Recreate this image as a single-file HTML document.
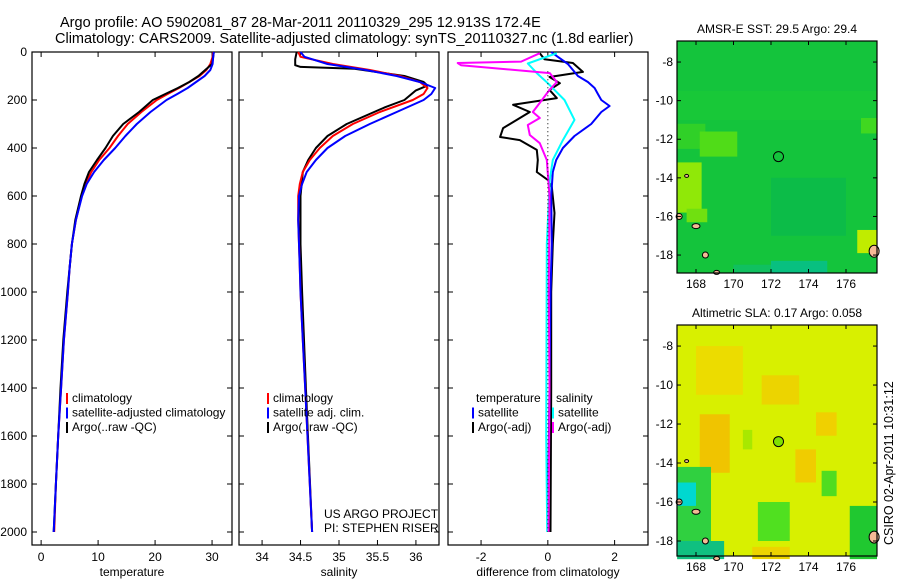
<!DOCTYPE html>
<html><head><meta charset="utf-8"><style>
html,body{margin:0;padding:0;background:#fff;}
svg{display:block;font-family:"Liberation Sans",sans-serif;}
text{font-size:12px;fill:#000;}
</style></head><body>
<svg id="fig" width="900" height="580" xmlns="http://www.w3.org/2000/svg">
<text x="60" y="27" style="font-size:14.5px">Argo profile: AO 5902081_87 28-Mar-2011 20110329_295 12.913S 172.4E</text>
<text x="55" y="43" style="font-size:14.5px">Climatology: CARS2009. Satellite-adjusted climatology: synTS_20110327.nc (1.8d earlier)</text>
<g id="panels"></g>
<text transform="translate(893,545) rotate(-90)" style="font-size:12.5px">CSIRO 02-Apr-2011 10:31:12</text>
</svg>
<script>
// ---- data ----
const depths = [0,20,50,75,100,125,150,175,200,250,300,350,400,450,500,550,600,700,800,900,1000,1200,1400,1600,1800,2000];
const tempClim = [30.2,30.1,29.7,29.0,27.8,26.0,24.2,22.2,20.3,17.6,15.2,13.5,12.0,10.2,8.8,7.8,7.1,6.1,5.4,5.0,4.7,4.0,3.5,3.0,2.6,2.3];
const tempSat  = [30.3,30.2,30.1,29.7,28.7,27.2,25.7,23.9,22.0,19.2,16.8,14.8,13.0,11.0,9.3,8.0,7.2,6.1,5.4,5.0,4.7,4.0,3.5,3.0,2.6,2.2];
const tempArgo = [30.3,30.2,30.0,28.8,27.6,26.0,24.0,21.8,19.6,17.2,14.4,12.6,11.3,9.8,8.4,7.6,7.0,6.0,5.4,5.0,4.6,3.9,3.4,3.0,2.6,2.2];
const salClim = [34.47,34.5,34.92,35.4,35.79,36.05,36.15,36.1,35.96,35.53,35.18,34.92,34.75,34.62,34.53,34.49,34.47,34.47,34.48,34.49,34.5,34.53,34.56,34.59,34.62,34.65];
const salSat  = [34.5,34.55,34.85,35.35,35.75,36.05,36.25,36.2,36.1,35.75,35.4,35.08,34.85,34.7,34.58,34.52,34.48,34.47,34.48,34.49,34.5,34.53,34.56,34.59,34.62,34.65];
const argoSalDepths = [0,30,55,62,70,100,125,140,160,200,230,300,350,400,450,500,600,800,1000,1400,2000];
const salArgo = [34.45,34.43,34.43,34.5,35.2,35.85,36.1,36.15,36.0,35.85,35.6,35.1,34.85,34.7,34.6,34.53,34.5,34.5,34.52,34.57,34.65];
const diffTempSatDepths = [0,20,50,75,100,125,150,175,200,225,250,300,350,400,450,500,600,800,1000,1400,2000];
const diffTempSat = [0.1,0.3,0.6,0.75,0.9,1.2,1.4,1.5,1.6,1.85,1.6,1.3,0.8,0.45,0.25,0.15,0.1,0.12,0.08,0.05,0.0];
const diffTempArgoDepths = [5,30,46,83,104,130,158,192,220,250,283,317,354,367,408,450,500,533,562,671,800,1000,1400,2000];
const diffTempArgo = [-0.24,-0.1,0.75,1.05,0.05,0.36,0.05,0.27,-1.04,-0.54,-0.93,-1.34,-1.43,-0.84,-0.33,-0.3,-0.33,0.0,0.12,0.2,0.15,0.1,0.1,0.08];
const diffSalArgoDepths = [5,40,46,55,88,125,158,212,250,275,304,346,380,450,600,1000,1400,2000];
const diffSalArgo = [-0.24,-0.8,-2.7,-2.6,0.06,0.27,0.05,-0.24,-0.45,-0.24,-0.6,-0.54,-0.24,-0.03,0.05,0.03,0.05,0.02];
const diffSalSatDepths = [5,48,88,130,200,283,367,450,533,800,1200,1600,2000];
const diffSalSat = [0.27,-0.6,-0.33,0.0,0.5,0.8,0.45,0.15,0.06,-0.03,-0.04,-0.05,-0.02];
const depthTicks = [0,200,400,600,800,1000,1200,1400,1600,1800,2000];
const tempTicks = [0,10,20,30];
const salTicks = [34,34.5,35,35.5,36];
const salTickLabels = ["34","34.5","35","35.5","36"];
const diffTicks = [-2,0,2];
const lonTicks = [168,170,172,174,176];
const latTicks = [-8,-10,-12,-14,-16,-18];
// map patches: [lon0, lat0, lon1, lat1, colour]
const sstPatches = [[167,-9.5,177.7,-11,"#18c838"],[167,-11.2,168.5,-12.5,"#30d028"],[168.2,-11.6,170.2,-12.9,"#50dc18"],[167,-13.2,168.3,-15.8,"#90e808"],[167.5,-15.6,168.6,-16.3,"#70e010"],[176.8,-10.9,177.7,-11.7,"#40d820"],[176.6,-16.7,177.7,-17.9,"#c0ec00"],[172,-18.3,175,-18.93,"#08c080"],[170,-18.5,172,-18.93,"#10c060"],[172,-14,176,-17,"#0cbc48"]];
const slaPatches = [[168,-8,170.5,-10.5,"#ecdc00"],[168.2,-11.5,169.8,-14.5,"#f0c400"],[171.5,-9.5,173.5,-11,"#ecd400"],[173.3,-13.3,174.4,-15,"#f0cc00"],[174.4,-11.4,175.5,-12.6,"#f0d000"],[170.5,-12.3,171,-13.3,"#a8e800"],[171.3,-16,173,-18,"#50e020"],[174.7,-14.4,175.5,-15.7,"#50dc20"],[167,-14.2,168.8,-18.93,"#30d040"],[167,-15,168,-16.2,"#00d8d0"],[167,-18,169.5,-18.93,"#10c080"],[176.2,-16.2,177.7,-18.93,"#20c830"],[171,-18.3,173,-18.93,"#ecd400"]];
</script>
<script>
const NS="http://www.w3.org/2000/svg";
const root=document.getElementById('panels');
function mk(tag,attrs,parent){const e=document.createElementNS(NS,tag);for(const k in attrs)e.setAttribute(k,attrs[k]);(parent||root).appendChild(e);return e;}
const Y0=52, YS=0.24;
function yD(d){return Y0+d*YS;}
const TOP=52, BOT=545;

function profilePanel(name,x0,x1,vmin,vmax,ticks,tickLbls,xlabel,series,showY){
  const g=mk('g',{});
  
  
  const xs=v=>x0+(v-vmin)/(vmax-vmin)*(x1-x0);
  const fr=mk('rect',{x:x0,y:TOP,width:x1-x0,height:BOT-TOP,fill:'#fff',stroke:'#000','stroke-width':1.2},g);
  
  
  ticks.forEach((t,i)=>{
    const x=xs(t);
    mk('line',{x1:x,x2:x,y1:TOP,y2:TOP+5,stroke:'#000'},g);
    mk('line',{x1:x,x2:x,y1:BOT,y2:BOT-5,stroke:'#000'},g);
    const tx=mk('text',{x:x,y:BOT+16,'text-anchor':'middle'},g);
    tx.textContent=tickLbls[i];
    
    
  });
  depthTicks.forEach(d=>{
    const y=yD(d);
    mk('line',{x1:x0,x2:x0+5,y1:y,y2:y,stroke:'#000'},g);
    mk('line',{x1:x1,x2:x1-5,y1:y,y2:y,stroke:'#000'},g);
    if(showY){const t=mk('text',{x:x0-5,y:y+4,'text-anchor':'end'},g);t.textContent=d;
      
      }
  });
  const xl=mk('text',{x:(x0+x1)/2,y:BOT+31,'text-anchor':'middle'},g);
  xl.textContent=xlabel;
  
  
  series.forEach(s=>{
    const pts=s.d.map((d,i)=>xs(s.v[i]).toFixed(1)+','+yD(d).toFixed(1)).join(' ');
    const p=mk('polyline',{points:pts,fill:'none',stroke:s.c,'stroke-width':2,'stroke-linejoin':'round'},g);
    
    
  });
  return {g,xs};
}
const p1=profilePanel('temperature-panel',32,232,-1.6,33.5,tempTicks,tempTicks.map(String),'temperature',[
 {d:depths,v:tempClim,c:'#f00',n:'temp-climatology-line'},
 {d:depths,v:tempArgo,c:'#000',n:'temp-argo-line'},
 {d:depths,v:tempSat,c:'#00f',n:'temp-satellite-line'}],true);
const p2=profilePanel('salinity-panel',239,439,33.7,36.3,salTicks,salTickLabels,'salinity',[
 {d:argoSalDepths,v:salArgo,c:'#000',n:'sal-argo-line'},
 {d:depths,v:salClim,c:'#f00',n:'sal-climatology-line'},
 {d:depths,v:salSat,c:'#00f',n:'sal-satellite-line'}],false);
const p3=profilePanel('difference-panel',448,648,-2.99,3,diffTicks,diffTicks.map(String),'difference from climatology',[
 {d:diffTempArgoDepths,v:diffTempArgo,c:'#000',n:'diff-temp-argo-line'},
 {d:diffTempSatDepths,v:diffTempSat,c:'#00f',n:'diff-temp-satellite-line'},
 {d:diffSalSatDepths,v:diffSalSat,c:'#0ff',n:'diff-sal-satellite-line'},
 {d:diffSalArgoDepths,v:diffSalArgo,c:'#f0f',n:'diff-sal-argo-line'}],false);
const zl=mk('line',{x1:p3.xs(0),x2:p3.xs(0),y1:yD(80),y2:yD(2000),stroke:'#000','stroke-dasharray':'1,3'},p3.g);



function legend(g,x,y,items,name){
  const lg=mk('g',{},g);
  
  
  items.forEach((it,i)=>{
    const yy=y+i*14.5;
    if(it.c) mk('line',{x1:x,x2:x,y1:yy-9,y2:yy+2,stroke:it.c,'stroke-width':2},lg);
    const t=mk('text',{x:x+(it.c?5:3),y:yy},lg);t.textContent=it.t;
    
    
  });
}
legend(p1.g,67,402,[{c:'#f00',t:'climatology'},{c:'#00f',t:'satellite-adjusted climatology'},{c:'#000',t:'Argo(..raw -QC)'}],'temperature-legend');
legend(p2.g,268,402,[{c:'#f00',t:'climatology'},{c:'#00f',t:'satellite adj. clim.'},{c:'#000',t:'Argo(..raw -QC)'}],'salinity-legend');
legend(p3.g,473,402,[{c:null,t:'temperature'},{c:'#00f',t:'satellite'},{c:'#000',t:'Argo(-adj)'}],'diff-temperature-legend');
legend(p3.g,553,402,[{c:null,t:'    salinity'},{c:'#0ff',t:'satellite'},{c:'#f0f',t:'Argo(-adj)'}],'diff-salinity-legend');
const us=mk('text',{x:324,y:518},p2.g);us.textContent='US ARGO PROJECT';


const pi=mk('text',{x:324,y:532},p2.g);pi.textContent='PI: STEPHEN RISER';



// ---- maps ----
function mapPanel(name,top,bot,latTopVal,latBotVal,base,patches,title,dotFill){
  const g=mk('g',{});
  
  
  const L=677,R=877;
  const xl=lon=>696+(lon-168)*18.75;
  const yl=lat=>top+(latTopVal-lat)/(latTopVal-latBotVal)*(bot-top);
  mk('rect',{x:L,y:top,width:R-L,height:bot-top,fill:base},g);
  patches.forEach(p=>{
    const x0=Math.max(L,xl(p[0])),x1=Math.min(R,xl(p[2]));
    const r=mk('rect',{x:x0,y:yl(p[1]),width:x1-x0,height:yl(p[3])-yl(p[1]),fill:p[4]},g);
    
    
  });
  [[167.1,-16,3,3],[168,-16.5,4,2.5],[168.5,-18,3,3],[177.5,-17.8,5,6],[169.1,-18.9,3,2],[167.5,-13.9,2,1.5]].forEach(l=>{
    const e=mk('ellipse',{cx:xl(l[0]),cy:yl(l[1]),rx:l[2],ry:l[3],fill:'#f5b995',stroke:'#000','stroke-width':1},g);
    
    
  });
  mk('rect',{x:L,y:top,width:R-L,height:bot-top,fill:'none',stroke:'#000','stroke-width':1.2},g);
  lonTicks.forEach(t=>{const x=xl(t);
    mk('line',{x1:x,x2:x,y1:top,y2:top+4,stroke:'#000'},g);
    mk('line',{x1:x,x2:x,y1:bot,y2:bot-4,stroke:'#000'},g);
    const tx=mk('text',{x:x,y:bot+15,'text-anchor':'middle'},g);tx.textContent=t;
    
    });
  latTicks.forEach(t=>{const y=yl(t);
    mk('line',{x1:L,x2:L+4,y1:y,y2:y,stroke:'#000'},g);
    mk('line',{x1:R,x2:R-4,y1:y,y2:y,stroke:'#000'},g);
    const tx=mk('text',{x:673,y:y+4,'text-anchor':'end'},g);tx.textContent=t;
    
    });
  const c=mk('circle',{cx:xl(172.4),cy:yl(-12.9),r:5,fill:dotFill,stroke:'#000','stroke-width':1},g);
  
  
  const tt=mk('text',{x:(L+R)/2,y:top-8,'text-anchor':'middle'},g);tt.textContent=title;
  
  
}
mapPanel('sst-map',41,273,-6.91,-18.93,'#14c43c',sstPatches,'AMSR-E SST: 29.5 Argo: 29.4','none');
mapPanel('sla-map',325,556,-6.92,-18.77,'#d8f000',slaPatches,'Altimetric SLA: 0.17 Argo: 0.058','#80e000');
</script>
</body></html>
